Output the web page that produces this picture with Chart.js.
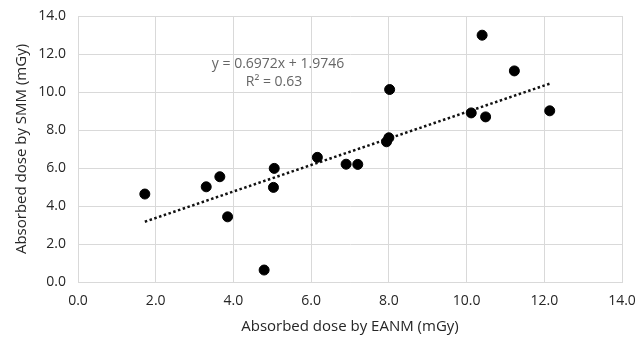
<!DOCTYPE html>
<html>
<head>
<meta charset="utf-8">
<script src="https://cdn.jsdelivr.net/npm/chart.js@4/dist/chart.umd.min.js"></script>
<style>
  html, body { margin: 0; padding: 0; background: #fff; }
  #wrap { width: 636px; height: 338px; }
</style>
</head>
<body>
<div id="wrap"><canvas id="grafica"></canvas></div>
<script>
// Dosis absorbida por paciente: EANM (x) frente a SMM (y), en mGy
const dosisEANM = [1.72, 3.30, 3.65, 3.85, 4.79, 5.03, 5.05, 6.16, 6.90, 7.20, 8.02, 7.94, 8.00, 10.12, 10.49, 10.40, 11.23, 12.14];
const dosisSMM  = [4.63, 5.01, 5.54, 3.43, 0.63, 4.98, 5.98, 6.56, 6.20, 6.19, 10.13, 7.38, 7.59, 8.90, 8.69, 12.99, 11.11, 9.01];

// Recta de tendencia tal como la da la etiqueta
const pendiente = 0.6972;
const intercepto = 1.9746;
const r2 = '0.63';

const ejeX = { min: 0, max: 14, paso: 2, titulo: 'Absorbed dose by EANM (mGy)' };
const ejeY = { min: 0, max: 14, paso: 2, titulo: 'Absorbed dose by SMM (mGy)' };

const puntos = dosisEANM.map((x, i) => ({ x: x, y: dosisSMM[i] }));
const xMin = Math.min(...dosisEANM);
const xMax = Math.max(...dosisEANM);
const tendencia = [xMin, xMax].map(x => ({ x: x, y: pendiente * x + intercepto }));

const FUENTE = "'Open Sans', 'Liberation Sans', sans-serif";

// Texto de la ecuación sobre el área del gráfico
const etiquetaEcuacion = {
    id: 'etiquetaEcuacion',
    afterDatasetsDraw(chart) {
        const ctx = chart.ctx;
        ctx.save();
        ctx.fillStyle = '#666666';
        ctx.font = '14px ' + FUENTE;
        ctx.textAlign = 'center';
        ctx.textBaseline = 'middle';
        ctx.fillText('y = ' + pendiente + 'x + ' + intercepto, 278, 64);
        ctx.fillText('R\u00B2 = ' + r2, 274, 82);
        ctx.restore();
    }
};

const ctx = document.getElementById('grafica').getContext('2d');
const grafica = new Chart(ctx, {
    type: 'scatter',
    data: {
        datasets: [{
            data: puntos,
            backgroundColor: '#000',
            borderColor: '#000',
            pointRadius: 5,
            pointHoverRadius: 5
        }, {
            type: 'line',
            data: tendencia,
            borderColor: '#111',
            borderWidth: 2.5,
            borderDash: [2.5, 2.5],
            pointRadius: 0,
            fill: false
        }]
    },
    options: {
        responsive: true,
        maintainAspectRatio: false,
        animation: false,
        layout: { padding: { top: 16, right: 14, bottom: 0, left: 0 } },
        plugins: {
            legend: { display: false },
            tooltip: { enabled: false }
        },
        scales: {
            x: {
                type: 'linear',
                min: ejeX.min,
                max: ejeX.max,
                afterFit: s => {
                    s.height = 56;
                    s.paddingLeft = 0;
                    s.paddingRight = 0;
                },
                ticks: {
                    stepSize: ejeX.paso,
                    padding: 11,
                    color: '#262626',
                    font: { family: FUENTE, size: 14 },
                    callback: v => v.toFixed(1)
                },
                grid: { color: '#d9d9d9', lineWidth: 1, drawTicks: false },
                border: { color: '#d9d9d9' },
                title: {
                    display: true,
                    text: ejeX.titulo,
                    color: '#262626',
                    font: { family: FUENTE, size: 15 },
                    padding: { top: 0, bottom: 2 }
                }
            },
            y: {
                min: ejeY.min,
                max: ejeY.max,
                afterFit: s => {
                    s.width = 78;
                    s.paddingTop = 0;
                    s.paddingBottom = 0;
                },
                ticks: {
                    stepSize: ejeY.paso,
                    padding: 12,
                    color: '#262626',
                    font: { family: FUENTE, size: 14 },
                    callback: v => v.toFixed(1)
                },
                grid: { color: '#d9d9d9', lineWidth: 1, drawTicks: false },
                border: { color: '#d9d9d9' },
                title: {
                    display: true,
                    text: ejeY.titulo,
                    color: '#262626',
                    font: { family: FUENTE, size: 15 },
                    padding: { top: 13, bottom: 0 }
                }
            }
        }
    },
    plugins: [etiquetaEcuacion]
});
</script>
</body>
</html>
